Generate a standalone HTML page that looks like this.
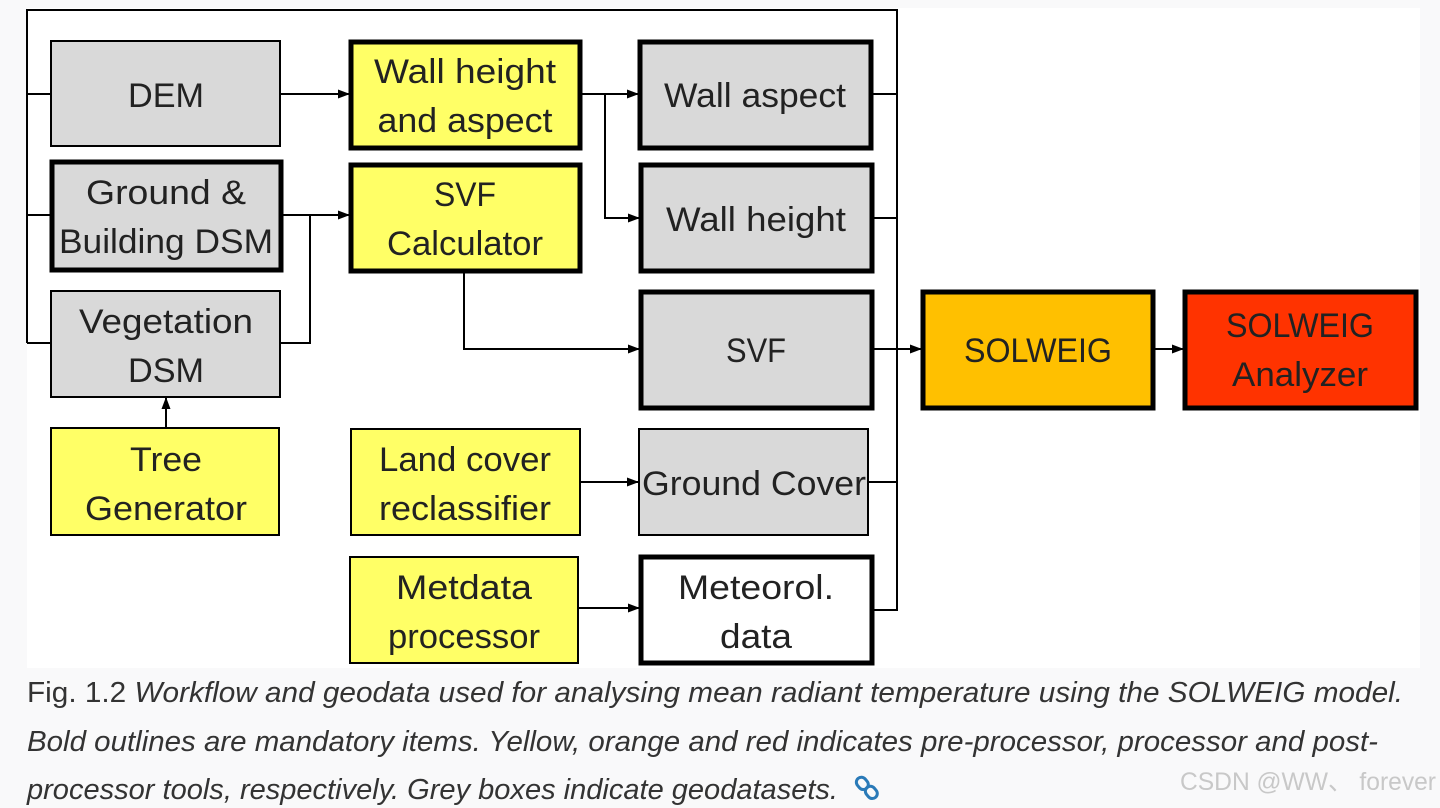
<!DOCTYPE html>
<html><head><meta charset="utf-8"><style>
html,body{margin:0;padding:0;background:#f9f9fa;}
svg{display:block}
</style></head><body>
<svg width="1440" height="808" viewBox="0 0 1440 808" xmlns="http://www.w3.org/2000/svg" font-family="Liberation Sans, sans-serif">
<defs><marker id="a" markerWidth="12" markerHeight="12" refX="11" refY="6" orient="auto" markerUnits="userSpaceOnUse"><path d="M0,1.5 L12,6 L0,10.5 z" fill="#000"/></marker></defs>
<rect x="27" y="8" width="1393" height="660" fill="#fff"/>
<g stroke="#000" stroke-width="2" fill="none">
<polyline points="27,343 27,10 897,10 897,610 873,610"/>
<line x1="27" y1="94" x2="50" y2="94"/>
<line x1="27" y1="215" x2="50" y2="215"/>
<line x1="27" y1="343" x2="50" y2="343"/>
<line x1="281" y1="94" x2="349" y2="94" marker-end="url(#a)"/>
<line x1="283" y1="215" x2="349" y2="215" marker-end="url(#a)"/>
<polyline points="281,343 310,343 310,215"/>
<line x1="582" y1="94" x2="638" y2="94" marker-end="url(#a)"/>
<polyline points="605,94 605,218 639,218" marker-end="url(#a)"/>
<polyline points="464,273 464,349 639,349" marker-end="url(#a)"/>
<line x1="166" y1="427" x2="166" y2="398" marker-end="url(#a)"/>
<line x1="581" y1="482" x2="638" y2="482" marker-end="url(#a)"/>
<line x1="579" y1="608" x2="639" y2="608" marker-end="url(#a)"/>
<line x1="873" y1="94" x2="897" y2="94"/>
<line x1="874" y1="218" x2="897" y2="218"/>
<line x1="868" y1="482" x2="897" y2="482"/>
<line x1="874" y1="349" x2="921" y2="349" marker-end="url(#a)"/>
<line x1="1155" y1="349" x2="1183" y2="349" marker-end="url(#a)"/>
</g>
<g stroke="#000">
<rect x="51" y="41" width="229" height="105" fill="#d9d9d9" stroke-width="2"/>
<rect x="52" y="162" width="229" height="108" fill="#d9d9d9" stroke-width="5"/>
<rect x="51" y="291" width="229" height="106" fill="#d9d9d9" stroke-width="2"/>
<rect x="51" y="428" width="228" height="107" fill="#ffff66" stroke-width="2"/>
<rect x="351" y="42" width="229" height="106" fill="#ffff66" stroke-width="5"/>
<rect x="351" y="165" width="229" height="106" fill="#ffff66" stroke-width="5"/>
<rect x="351" y="429" width="229" height="106" fill="#ffff66" stroke-width="2"/>
<rect x="350" y="557" width="228" height="106" fill="#ffff66" stroke-width="2"/>
<rect x="640" y="42" width="231" height="106" fill="#d9d9d9" stroke-width="5"/>
<rect x="641" y="165" width="231" height="106" fill="#d9d9d9" stroke-width="5"/>
<rect x="641" y="292" width="231" height="116" fill="#d9d9d9" stroke-width="5"/>
<rect x="639" y="429" width="229" height="106" fill="#d9d9d9" stroke-width="2"/>
<rect x="641" y="557" width="231" height="106" fill="#fff" stroke-width="5"/>
<rect x="923" y="292" width="230" height="116" fill="#ffc000" stroke-width="5"/>
<rect x="1185" y="292" width="231" height="116" fill="#ff3300" stroke-width="5"/>
</g>
<g font-size="34" fill="#222" text-anchor="middle" lengthAdjust="spacingAndGlyphs">
<text x="166" y="107" textLength="76" lengthAdjust="spacingAndGlyphs">DEM</text>
<text x="166" y="204" textLength="160" lengthAdjust="spacingAndGlyphs">Ground &amp;</text>
<text x="166" y="253" textLength="214" lengthAdjust="spacingAndGlyphs">Building DSM</text>
<text x="166" y="333" textLength="174" lengthAdjust="spacingAndGlyphs">Vegetation</text>
<text x="166" y="382" textLength="76" lengthAdjust="spacingAndGlyphs">DSM</text>
<text x="166" y="471" textLength="72" lengthAdjust="spacingAndGlyphs">Tree</text>
<text x="166" y="520" textLength="162" lengthAdjust="spacingAndGlyphs">Generator</text>
<text x="465" y="83" textLength="182" lengthAdjust="spacingAndGlyphs">Wall height</text>
<text x="465" y="132" textLength="175" lengthAdjust="spacingAndGlyphs">and aspect</text>
<text x="465" y="206" textLength="62" lengthAdjust="spacingAndGlyphs">SVF</text>
<text x="465" y="255" textLength="156" lengthAdjust="spacingAndGlyphs">Calculator</text>
<text x="465" y="471" textLength="172" lengthAdjust="spacingAndGlyphs">Land cover</text>
<text x="465" y="520" textLength="172" lengthAdjust="spacingAndGlyphs">reclassifier</text>
<text x="464" y="599" textLength="136" lengthAdjust="spacingAndGlyphs">Metdata</text>
<text x="464" y="648" textLength="152" lengthAdjust="spacingAndGlyphs">processor</text>
<text x="755" y="107" textLength="182" lengthAdjust="spacingAndGlyphs">Wall aspect</text>
<text x="756" y="231" textLength="180" lengthAdjust="spacingAndGlyphs">Wall height</text>
<text x="756" y="362" textLength="60" lengthAdjust="spacingAndGlyphs">SVF</text>
<text x="754" y="495" textLength="224" lengthAdjust="spacingAndGlyphs">Ground Cover</text>
<text x="756" y="599" textLength="156" lengthAdjust="spacingAndGlyphs">Meteorol.</text>
<text x="756" y="648" textLength="72" lengthAdjust="spacingAndGlyphs">data</text>
<text x="1038" y="362" textLength="148" lengthAdjust="spacingAndGlyphs">SOLWEIG</text>
<text x="1300" y="337" textLength="148" lengthAdjust="spacingAndGlyphs">SOLWEIG</text>
<text x="1300" y="386" textLength="136" lengthAdjust="spacingAndGlyphs">Analyzer</text>
</g>
<g font-size="29" fill="#333">
<text x="27" y="702" textLength="1376" lengthAdjust="spacingAndGlyphs">Fig. 1.2 <tspan font-style="italic">Workflow and geodata used for analysing mean radiant temperature using the SOLWEIG model.</tspan></text>
<text x="27" y="751" font-style="italic" textLength="1351" lengthAdjust="spacingAndGlyphs">Bold outlines are mandatory items. Yellow, orange and red indicates pre-processor, processor and post-</text>
<text x="27" y="799" font-style="italic" textLength="811" lengthAdjust="spacingAndGlyphs">processor tools, respectively. Grey boxes indicate geodatasets.</text>
</g>
<g stroke="#2a7ab8" stroke-width="3" fill="none">
<rect x="857" y="777" width="10" height="13" rx="5" transform="rotate(-40 862 783)"/>
<rect x="866" y="786" width="10" height="13" rx="5" transform="rotate(-40 871 792)"/>
</g>
<text x="1180" y="790" font-size="25" fill="#c8c8c8" textLength="256" lengthAdjust="spacingAndGlyphs">CSDN @WW、 forever</text>
</svg>
</body></html>
